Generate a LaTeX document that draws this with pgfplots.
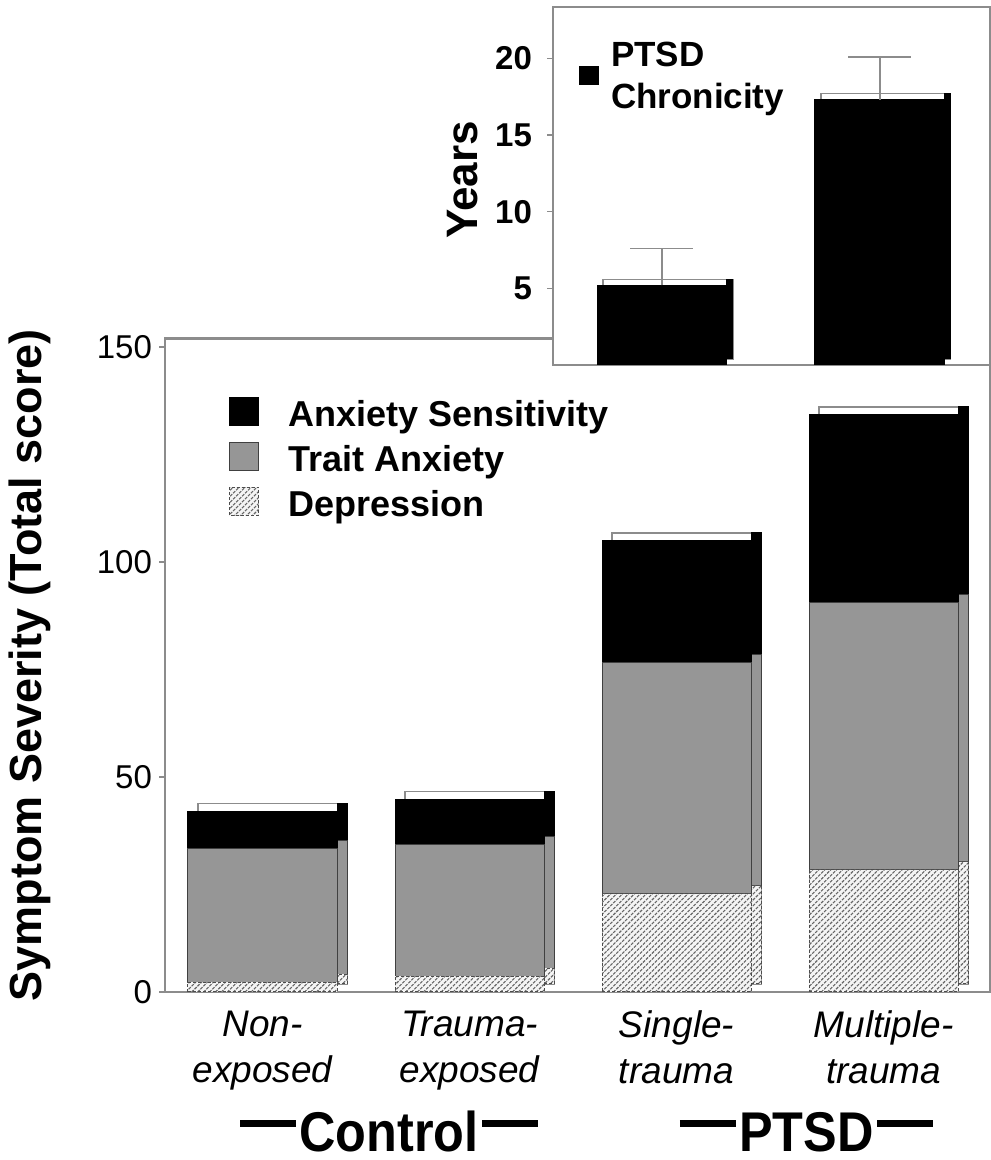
\documentclass[border=0pt]{standalone}
\usepackage{fontspec}
\setmainfont{Liberation Sans}
\usepackage{graphicx}
\usepackage{pgfplots}
\pgfplotsset{compat=1.18}
\usetikzlibrary{patterns.meta}
\definecolor{barGray}{RGB}{150,150,150}
\definecolor{frameGray}{RGB}{140,140,140}
\pgfplotsset{
  dep/.style={fill=gray!8, draw=black!70, line width=0.5pt, dash pattern=on 1.5pt off 1pt,
    postaction={pattern={Lines[angle=45,distance=2.1pt,line width=0.55pt]}, pattern color=black!60}},
  trait/.style={fill=barGray, draw=black!75, line width=0.5pt},
  anx/.style={fill=black, draw=black, line width=0.5pt},
  topface/.style={fill=white, draw=frameGray, line width=0.6pt},
  maingeom/.style={anchor=south west, scale only axis,
    width=412.5pt, height=326.8pt,
    xmin=-0.471, xmax=3.514, ymin=0, ymax=152,
    ybar stacked, bar width=0.72, clip=false},
  insetgeom/.style={anchor=south west, scale only axis,
    width=218.5pt, height=179pt,
    xmin=-0.5, xmax=1.505, ymin=0, ymax=23.35,
    ybar, bar width=0.596, clip=false},
}
\newcommand{\grouplabel}[1]{\scalebox{0.9}[1]{\rule[12.3pt]{31pt}{3.5pt}\hspace{2pt}#1\hspace{2pt}\rule[12.3pt]{31pt}{3.5pt}}}
\begin{document}
\begin{tikzpicture}
\useasboundingbox (0,0) rectangle (495pt,580pt);
% 3-D top faces of the main bars
\begin{axis}[maingeom, at={(82.5pt,88pt)}, hide axis]
\addplot[topface, bar shift=5pt] coordinates {(0,2.3) (1,3.7) (2,22.8) (3,28.4)};
\addplot[topface, bar shift=5pt] coordinates {(0,31.0) (1,30.7) (2,53.9) (3,62.1)};
\addplot[topface, bar shift=5pt] coordinates {(0,8.6) (1,10.3) (2,28.2) (3,43.7)};
\end{axis}
% 3-D side faces of the main bars
\begin{axis}[maingeom, at={(82.5pt,88pt)}, hide axis]
\addplot[dep, bar width=5pt, bar shift=39.76pt] coordinates {(0,2.3) (1,3.7) (2,22.8) (3,28.4)};
\addplot[trait, bar width=5pt, bar shift=39.76pt] coordinates {(0,31.0) (1,30.7) (2,53.9) (3,62.1)};
\addplot[anx, bar width=5pt, bar shift=39.76pt] coordinates {(0,8.6) (1,10.3) (2,28.2) (3,43.7)};
\end{axis}
% main chart
\begin{axis}[maingeom, at={(82.5pt,84pt)},
  axis line style={frameGray, line width=1.2pt},
  xtick={0,1,2,3},
  xticklabels={{Non-\\exposed},{Trauma-\\exposed},{Single-\\trauma},{Multiple-\\trauma}},
  xticklabel style={align=center, font=\itshape\fontsize{18.5}{23}\selectfont, yshift=-3pt},
  x tick style={draw=none},
  ytick={0,50,100,150},
  y tick style={frameGray, line width=0.8pt},
  tick align=outside, major tick length=3pt,
  yticklabel style={font=\fontsize{16.5}{18}\selectfont},
  /pgf/number format/assume math mode=true,
  ylabel={Symptom Severity (Total score)},
  ylabel style={font=\bfseries\fontsize{22.5}{24}\selectfont, at={(axis description cs:-0.1636,0.5)}, anchor=center},
  reverse legend,
  legend cell align=left,
  legend image code/.code={\draw[#1] (0pt,-4.5pt) rectangle (14.5pt,9.5pt);},
  legend style={draw=none, fill=none, inner sep=0pt, outer sep=0pt,
    at={(axis description cs:0.0776,0.911)}, anchor=north west,
    row sep=3.75pt, font=\bfseries\fontsize{18}{20}\selectfont,
    /tikz/every odd column/.append style={column sep=14.5pt},
    nodes={inner sep=0pt, text height=14pt, text depth=4pt}},
]
\addplot[dep] coordinates {(0,2.3) (1,3.7) (2,22.8) (3,28.4)};
\addlegendentry{Depression}
\addplot[trait] coordinates {(0,31.0) (1,30.7) (2,53.9) (3,62.1)};
\addlegendentry{Trait Anxiety}
\addplot[anx] coordinates {(0,8.6) (1,10.3) (2,28.2) (3,43.7)};
\addlegendentry{Anxiety Sensitivity}
\node[anchor=base, font=\bfseries\fontsize{28}{30}\selectfont] at (axis cs:0.611,-37.0) {\grouplabel{Control}};
\node[anchor=base, font=\bfseries\fontsize{28}{30}\selectfont] at (axis cs:2.628,-37.0) {\grouplabel{PTSD}};
\end{axis}

% inset frame, labels and legend
\begin{axis}[insetgeom, at={(276.5pt,397.5pt)},
  axis background/.style={fill=white},
  axis line style={frameGray, line width=1.2pt},
  xtick=\empty,
  ytick={5,10,15,20},
  y tick style={frameGray, line width=0.8pt},
  tick align=outside, major tick length=3pt,
  yticklabel style={font=\bfseries\fontsize{16.5}{18}\selectfont, xshift=-4pt},
  /pgf/number format/assume math mode=true,
  ylabel={Years},
  ylabel style={font=\bfseries\fontsize{22}{24}\selectfont, at={(axis description cs:-0.206,0.517)}, anchor=center},
  legend image code/.code={\draw[#1] (0pt,-16pt) rectangle (9.5pt,-7pt);},
  legend style={draw=none, fill=none, inner sep=0pt, outer sep=0pt,
    at={(axis description cs:0.0595,0.917)}, anchor=north west,
    font=\bfseries\fontsize{17.5}{21}\selectfont,
    /tikz/every odd column/.append style={column sep=6pt},
    nodes={inner sep=0pt}},
]
\addlegendimage{anx}
\addlegendentry{\begin{tabular}[t]{@{}l@{}}PTSD\\Chronicity\end{tabular}}
\end{axis}
% inset 3-D faces
\begin{axis}[insetgeom, at={(276.5pt,400.5pt)}, hide axis]
\addplot[topface, bar shift=3pt] coordinates {(0,5.2) (1,17.3)};
\addplot[anx, bar width=3pt, bar shift=34pt] coordinates {(0,5.2) (1,17.3)};
\end{axis}
% inset bars
\begin{axis}[insetgeom, at={(276.5pt,397.5pt)}, hide axis]
\addplot[anx, bar shift=0pt,
  error bars/.cd, y dir=plus, y explicit,
  error bar style={frameGray, line width=0.8pt},
  error mark options={rotate=90, mark size=15.75pt, frameGray, line width=0.8pt}]
  coordinates {(0,5.2) +- (0,2.4) (1,17.3) +- (0,2.8)};
\end{axis}
\end{tikzpicture}
\end{document}
